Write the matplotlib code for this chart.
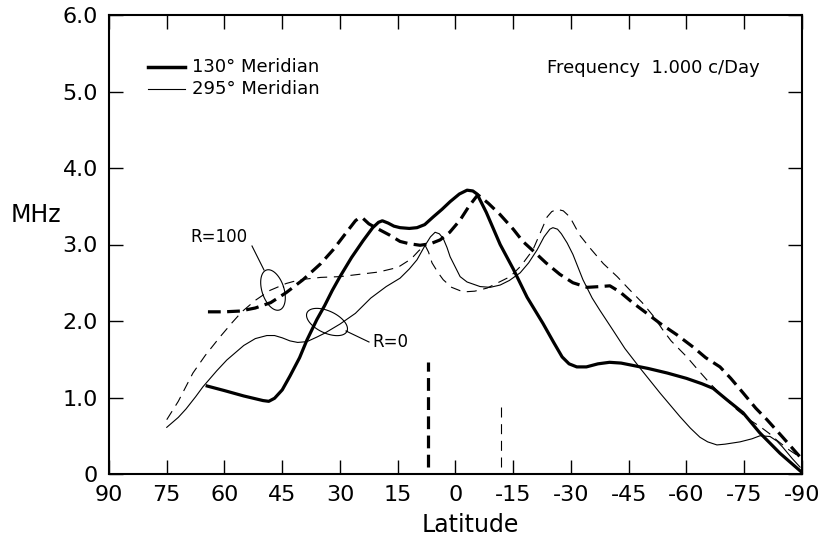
import numpy as np
import matplotlib
matplotlib.use('Agg')
import matplotlib.pyplot as plt

# 130 deg meridian, R=0 (thick solid)
lat_130_r0 = [64.5, 60, 55, 50, 48.5, 47, 45, 43, 40.5, 38.6, 36, 34, 32, 30, 27, 24, 21.5,
              20, 19, 17.5, 16, 14.4, 12, 10, 8, 5.8, 3.5, 1.4, -1, -3, -4.5, -5.6, -8,
              -11.6, -15, -18.6, -22.7, -25.5, -27.7, -29.5, -31.5, -34, -37, -40, -43,
              -47, -50, -55, -60, -64, -66.9, -70.5, -74.7, -79, -84.3, -90]
val_130_r0 = [1.15, 1.09, 1.02, 0.96, 0.95, 0.99, 1.1, 1.28, 1.52, 1.75, 2.02, 2.2, 2.4,
              2.58, 2.83, 3.05, 3.22, 3.29, 3.31, 3.28, 3.24, 3.22, 3.21, 3.22, 3.26,
              3.36, 3.46, 3.56, 3.66, 3.71, 3.70, 3.66, 3.42, 3.0, 2.68, 2.31, 1.97,
              1.72, 1.53, 1.44, 1.40, 1.40, 1.44, 1.46, 1.45, 1.41, 1.38, 1.32, 1.25,
              1.18, 1.12, 0.97, 0.80, 0.54, 0.27, 0.02]

# 130 deg meridian, R=100 (thick dashed)
lat_130_r100 = [64.3, 60, 56, 52, 48, 44, 39.6, 35, 31.8, 28, 26, 25, 24, 22.5, 20, 17,
                14.4, 12, 9.2, 6.5, 4, 1.5, -1.2, -3.5, -5.8, -8.5, -11.6, -15, -17.5,
                -20.1, -23.5, -27.1, -30.5, -34.2, -37.5, -40.1, -42.7, -46, -49.7,
                -53.1, -57.5, -61.7, -65, -68.7, -71.5, -74.7, -78, -80.9, -85, -89.9]
val_130_r100 = [2.12, 2.12, 2.13, 2.17, 2.24, 2.37, 2.54, 2.75, 2.93, 3.18, 3.31, 3.35,
                3.34, 3.27, 3.2, 3.12, 3.04, 3.01, 2.99, 3.01, 3.06, 3.16, 3.32, 3.5,
                3.65, 3.54, 3.39, 3.2, 3.04, 2.92, 2.76, 2.61, 2.5, 2.44, 2.45, 2.46,
                2.38, 2.24, 2.10, 1.97, 1.82, 1.66, 1.52, 1.40, 1.25, 1.06, 0.86, 0.71,
                0.48, 0.2]

# 295 deg meridian, R=0 (thin solid)
lat_295_r0 = [75, 72, 70, 67.5, 65.6, 62, 59.4, 55, 52, 49, 47, 45, 43, 41, 38.6, 36, 34,
              30, 26, 22, 18, 14.4, 12, 10, 8, 6.5, 5.3, 4.2, 3.2, 2.2, 1.4, 0, -1.2, -3,
              -6.4, -9, -11.6, -14, -16.8, -19, -21.2, -23, -24.5, -25.3, -26.5, -27.5,
              -29, -30.5, -33.1, -35.5, -37.5, -40.9, -44, -48, -53.1, -58.3, -61, -63.5,
              -65.5, -67.9, -70, -73.9, -77, -79.1, -81.7, -83.5, -85, -87.5, -89.5]
val_295_r0 = [0.61, 0.74, 0.85, 1.01, 1.14, 1.35, 1.49, 1.68, 1.77, 1.81, 1.81, 1.78,
              1.74, 1.72, 1.73, 1.79, 1.84, 1.96, 2.1, 2.3, 2.45, 2.56, 2.68, 2.8, 2.98,
              3.1, 3.16, 3.14, 3.08, 2.96, 2.84, 2.70, 2.58, 2.51, 2.45, 2.44, 2.47,
              2.53, 2.63, 2.76, 2.93, 3.1, 3.2, 3.22, 3.2, 3.14, 3.02, 2.87, 2.54, 2.30,
              2.14, 1.88, 1.64, 1.38, 1.06, 0.75, 0.6, 0.48, 0.42, 0.38, 0.39, 0.42,
              0.46, 0.50, 0.49, 0.43, 0.35, 0.2, 0.09]

# 295 deg meridian, R=100 (thin dashed)
lat_295_r100 = [75, 72, 68.2, 65, 61.2, 58, 55.5, 52, 48.2, 44, 40.4, 35, 30, 25, 20, 15,
                12.5, 11, 9.5, 7.9, 7, 6.1, 4.5, 3.2, 1, -2, -5, -8.2, -11, -14.2, -17,
                -20.1, -22, -23.8, -25, -26.4, -28, -29.7, -32.3, -35, -38.4, -42, -45,
                -48.5, -51.3, -53.9, -56, -60.1, -63, -66, -69.5, -73.1, -76, -79.1,
                -81.5, -83.5, -86.5, -89.5]
val_295_r100 = [0.71, 0.95, 1.32, 1.55, 1.79, 1.98, 2.12, 2.27, 2.40, 2.49, 2.54, 2.57,
                2.58, 2.61, 2.64, 2.70, 2.78, 2.84, 2.92, 2.99, 2.9, 2.76, 2.63, 2.54,
                2.44, 2.38, 2.39, 2.43, 2.5, 2.58, 2.72, 2.93, 3.15, 3.36, 3.43, 3.46,
                3.44, 3.36, 3.12, 2.95, 2.75, 2.58, 2.42, 2.24, 2.07, 1.88, 1.74, 1.53,
                1.36, 1.19, 1.01, 0.84, 0.72, 0.62, 0.53, 0.44, 0.32, 0.22]

# vertical markers: latitude, bottom, top
mark_130 = [7.1, 0.09, 1.47]
mark_295 = [-11.8, 0.09, 0.94]

xticks = [90, 75, 60, 45, 30, 15, 0, -15, -30, -45, -60, -75, -90]
xlabels = ['90', '75', '60', '45', '30', '15', '0', '-15', '-30', '-45', '-60', '-75', '-90']
yticks = [0, 1, 2, 3, 4, 5, 6]
ylabels = ['0', '1.0', '2.0', '3.0', '4.0', '5.0', '6.0']

fig = plt.figure(figsize=(8.2, 5.37), dpi=100)
ax = fig.add_axes([109/820, 1-474/537, 693/820, 459/537])

ax.plot(lat_130_r0, val_130_r0, color='black', lw=2.3, solid_joinstyle='round')
ax.plot(lat_130_r100, val_130_r100, color='black', lw=2.3, dashes=(4, 2))
ax.plot(lat_295_r0, val_295_r0, color='black', lw=0.8)
ax.plot(lat_295_r100, val_295_r100, color='black', lw=0.8, dashes=(9, 6))

ax.vlines(mark_130[0], mark_130[1], mark_130[2], color='black', lw=2.3, linestyles=(0, (4, 2)))
ax.vlines(mark_295[0], mark_295[1], mark_295[2], color='black', lw=0.8, linestyles=(0, (9, 6)))

ax.set_xlim(90, -90)
ax.set_ylim(0, 6)
ax.set_xticks(xticks)
ax.set_xticklabels(xlabels)
ax.set_yticks(yticks)
ax.set_yticklabels(ylabels)
ax.tick_params(direction='in', length=10, width=1, labelsize=16, pad=8,
               top=True, right=True)
for s in ax.spines.values():
    s.set_linewidth(1.5)
ax.set_xlabel('Latitude', fontsize=17)
ax.xaxis.set_label_coords(0.522, -0.085)
fig.text(36/820, 1-215/537, 'MHz', fontsize=17, ha='center', va='center')

# legend drawn by hand
px = lambda x: x / 820
py = lambda y: 1 - y / 537
fig.add_artist(plt.Line2D([px(148), px(185)], [py(67), py(67)], color='black', lw=2.5))
fig.add_artist(plt.Line2D([px(148), px(185)], [py(89), py(89)], color='black', lw=0.8))
fig.text(px(192), py(67), '130° Meridian', fontsize=13, va='center')
fig.text(px(192), py(89), '295° Meridian', fontsize=13, va='center')
fig.text(px(547), py(68), 'Frequency  1.000 c/Day', fontsize=13, va='center')

# annotation ellipses (drawn in pixel space)
def ell(cx, cy, w, h, ang):
    t = np.linspace(0, 2*np.pi, 100)
    a = np.deg2rad(ang)
    x = w/2*np.cos(t)*np.cos(a) - h/2*np.sin(t)*np.sin(a) + cx
    y = w/2*np.cos(t)*np.sin(a) + h/2*np.sin(t)*np.cos(a) + cy
    fig.add_artist(plt.Line2D(px(x), py(y), color='black', lw=0.8))

ell(273, 290, 22, 42, -18)
ell(327, 322, 44, 22, 25)
fig.add_artist(plt.Line2D([px(252), px(264)], [py(246), py(270)], color='black', lw=0.8))
fig.add_artist(plt.Line2D([px(346), px(369)], [py(331), py(342)], color='black', lw=0.8))
fig.text(px(219), py(237), 'R=100', fontsize=12, ha='center', va='center')
fig.text(px(372), py(342), 'R=0', fontsize=12, ha='left', va='center')

fig.savefig('out.png', dpi=100)
